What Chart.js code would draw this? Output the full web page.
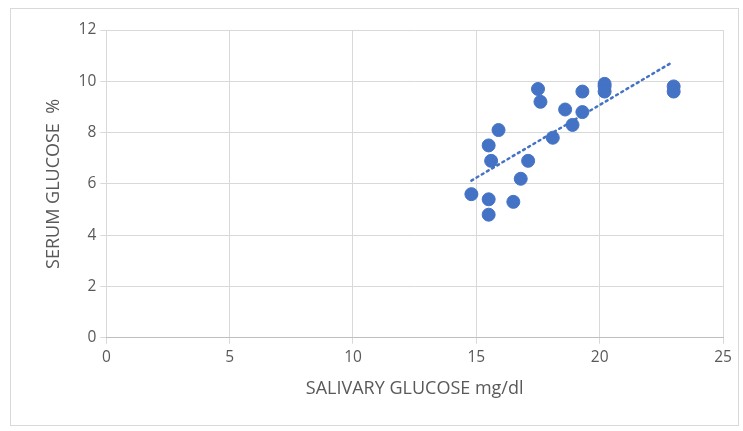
<!DOCTYPE html>
<html>
<head>
<meta charset="utf-8">
<script src="https://cdn.jsdelivr.net/npm/chart.js@4"></script>
<style>
  body { margin: 0; background: #fff; }
  #frame { position: absolute; left: 10px; top: 8px; width: 727px; height: 416px; border: 1px solid #d9d9d9; }
  #wrap { position: absolute; left: 0; top: 0; width: 743px; height: 431px; }
</style>
</head>
<body>
<div id="frame"></div>
<div id="wrap"><canvas id="chartCanvas"></canvas></div>
<script>
// salivary vs serum glucose
const salivary = [14.8, 15.5, 15.5, 15.5, 15.6, 15.9, 16.5, 16.8, 17.1, 17.5, 17.6, 18.1, 18.6, 18.9, 19.3, 19.3, 20.2, 20.2, 20.2, 23.0, 23.0];
const serum = [5.6, 5.4, 4.8, 7.5, 6.9, 8.1, 5.3, 6.2, 6.9, 9.7, 9.2, 7.8, 8.9, 8.3, 9.6, 8.8, 9.9, 9.8, 9.6, 9.8, 9.6];

// linear trend line end points
const trendX = [14.8, 22.9];
const trendY = [6.13, 10.72];

const xTicks = [0, 5, 10, 15, 20, 25];
const yTicks = [0, 2, 4, 6, 8, 10, 12];

const pts = salivary.map(function (v, i) { return { x: v, y: serum[i] }; });
const trend = trendX.map(function (v, i) { return { x: v, y: trendY[i] }; });

const font = { family: "'Open Sans', 'Liberation Sans', sans-serif", size: 15.5 };

new Chart(document.getElementById('chartCanvas').getContext('2d'), {
    type: 'scatter',
    data: {
        datasets: [{
            data: pts,
            backgroundColor: '#4472c4',
            borderColor: '#4472c4',
            pointRadius: 6.5,
            pointHoverRadius: 6.5
        }, {
            type: 'line',
            data: trend,
            borderColor: '#4472c4',
            borderWidth: 2.5,
            borderDash: [2, 4],
            borderCapStyle: 'round',
            pointRadius: 0,
            fill: false
        }]
    },
    options: {
        responsive: true,
        maintainAspectRatio: false,
        animation: false,
        layout: { padding: { left: 39, top: 30, right: 20, bottom: 27 } },
        plugins: { legend: { display: false }, tooltip: { enabled: false } },
        scales: {
            x: {
                type: 'linear',
                min: 0, max: 25,
                afterBuildTicks: function (axis) { axis.ticks = xTicks.map(function (v) { return { value: v }; }); },
                grid: { color: '#d9d9d9', tickLength: 6 },
                border: { color: '#bfbfbf' },
                ticks: { color: '#595959', font: font, padding: 4 },
                title: { display: true, text: 'SALIVARY GLUCOSE mg/dl', color: '#595959', font: { family: font.family, size: 18 }, padding: { top: 8 } }
            },
            y: {
                min: 0, max: 12,
                afterBuildTicks: function (axis) { axis.ticks = yTicks.map(function (v) { return { value: v }; }); },
                grid: { color: '#d9d9d9', tickLength: 6 },
                border: { display: false },
                ticks: { color: '#595959', font: font, padding: 4 },
                title: { display: true, text: 'SERUM GLUCOSE  %', color: '#595959', font: { family: font.family, size: 18 }, padding: { bottom: 10 } }
            }
        }
    }
});
</script>
</body>
</html>
